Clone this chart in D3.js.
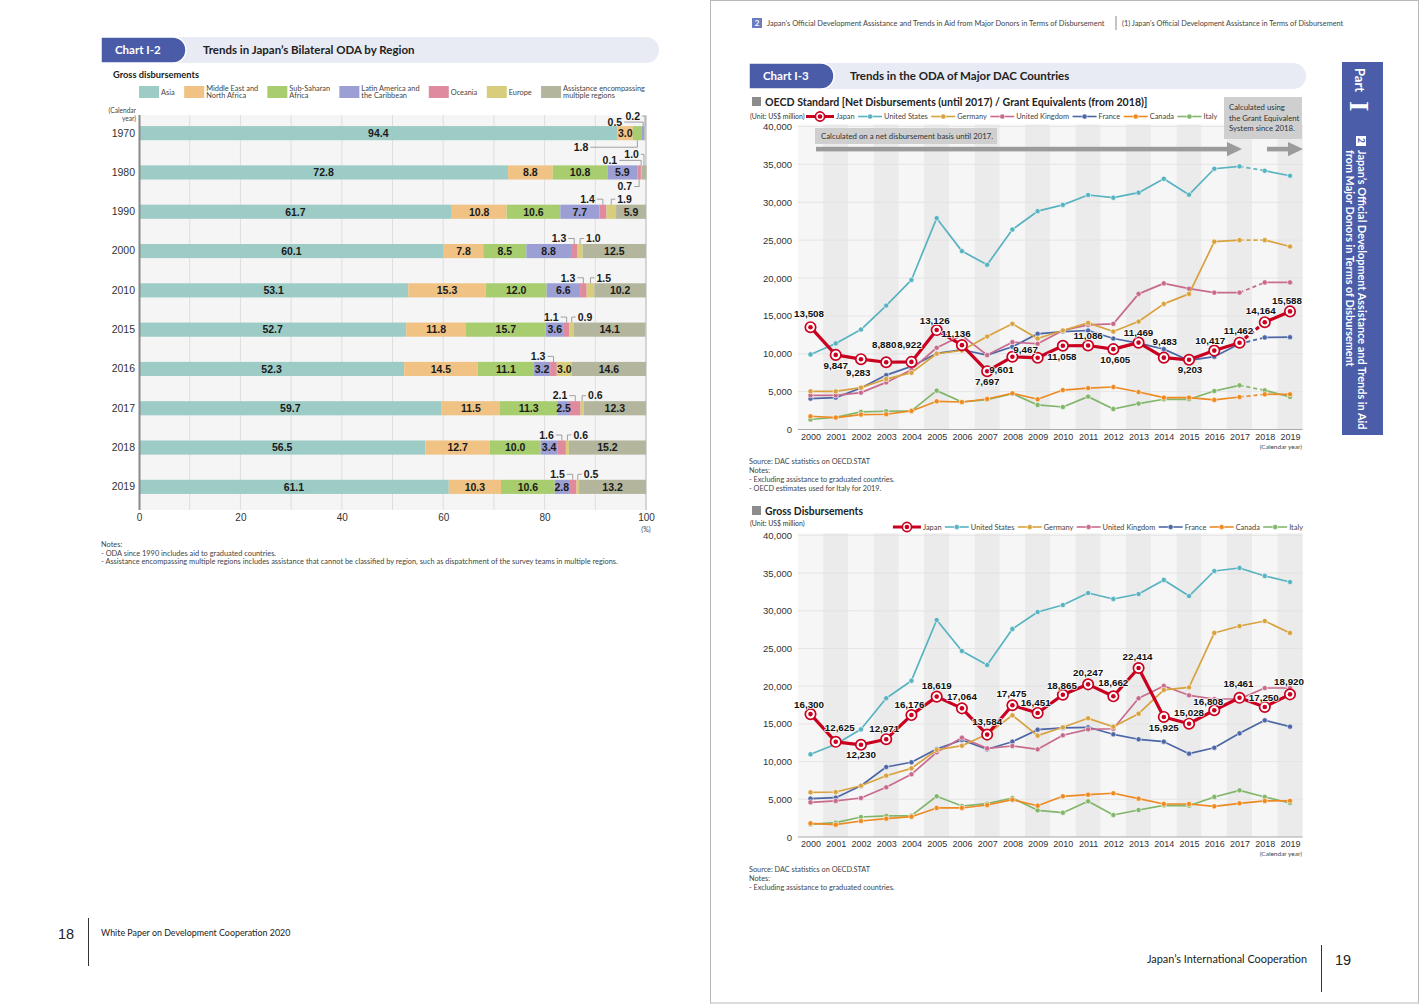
<!DOCTYPE html>
<html><head><meta charset="utf-8"><title>ODA charts</title>
<script src="https://cdn.jsdelivr.net/npm/d3@7/dist/d3.min.js"></script>
<style>html,body{margin:0;padding:0;background:#fff;}svg{display:block;}</style>
</head><body>
<svg id="page" width="1420" height="1004"></svg>
<script>
// ================= DATA =================
// Chart I-2 : Japan's bilateral ODA by region (% of gross disbursements)
const regionKeys   = ['asia','mena','ssa','latam','oceania','europe','multi'];
const regionLabels = [['Asia'],['Middle East and','North Africa'],['Sub-Saharan','Africa'],['Latin America and','the Caribbean'],['Oceania'],['Europe'],['Assistance encompassing','multiple regions']];
const regionYears  = ['1970','1980','1990','2000','2010','2015','2016','2017','2018','2019'];
const asiaShare    = [94.4,72.8,61.7,60.1,53.1,52.7,52.3,59.7,56.5,61.1];
const menaShare    = [3.0, 8.8,10.8, 7.8,15.3,11.8,14.5,11.5,12.7,10.3];
const ssaShare     = [1.8,10.8,10.6, 8.5,12.0,15.7,11.1,11.3,10.0,10.6];
const latamShare   = [0.5, 5.9, 7.7, 8.8, 6.6, 3.6, 3.2, 2.5, 3.4, 2.8];
const oceaniaShare = [0.0, 0.7, 1.4, 1.3, 1.3, 1.1, 1.3, 2.1, 1.6, 1.5];
const europeShare  = [0.0, 0.1, 1.9, 1.0, 1.5, 0.9, 3.0, 0.6, 0.6, 0.5];
const multiShare   = [0.2, 1.0, 5.9,12.5,10.2,14.1,14.6,12.3,15.2,13.2];
const shareTicks   = [0,20,40,60,80,100];

// Chart I-3 : ODA of major DAC countries (US$ million)
const years = ['2000','2001','2002','2003','2004','2005','2006','2007','2008','2009','2010','2011','2012','2013','2014','2015','2016','2017','2018','2019'];
const countryNames = ['Japan','United States','Germany','United Kingdom','France','Canada','Italy'];
const valueTicks = [0,5000,10000,15000,20000,25000,30000,35000,40000];
// OECD standard (net until 2017 / grant equivalent from 2018)
const jpNet = [13508,9847,9283,8880,8922,13126,11136,7697,9601,9467,11058,11086,10605,11469,9483,9203,10417,11462,14164,15588];
const usNet = [9910,11360,13200,16360,19740,27900,23550,21750,26400,28820,29650,30960,30600,31260,33100,31000,34420,34740,34160,33500];
const deNet = [5040,5040,5530,6660,7500,10000,10430,12280,13950,12010,13070,14080,12930,14250,16580,17900,24790,25000,25000,24160];
const ukNet = [4510,4510,4870,6220,7900,10790,12410,9820,11530,11320,13070,13820,13950,17900,19290,18590,18070,18070,19420,19420];
const frNet = [4080,4210,5470,7180,8330,10040,10530,9820,10920,12630,12930,13070,12010,11400,10610,9120,9610,11320,12150,12190];
const caNet = [1750,1580,1970,2010,2450,3720,3630,4030,4780,3990,5210,5470,5610,4950,4210,4210,3900,4290,4650,4650];
const itNet = [1320,1620,2320,2410,2450,5130,3630,3950,4740,3240,2970,4340,2710,3420,3990,3990,5080,5830,5170,4290];
// Gross disbursements
const jpGross = [16300,12625,12230,12971,16176,18619,17064,13584,17475,16451,18865,20247,18662,22414,15925,15028,16808,18461,17250,18920];
const usGross = [10970,12300,14280,18400,20730,28780,24670,22810,27590,29840,30770,32360,31570,32230,34090,31960,35280,35680,34620,33820];
const deGross = [5930,5970,6800,8130,9110,11540,12110,13620,16140,13440,14550,15740,14630,16350,19500,19850,27060,27980,28650,27060];
const ukGross = [4600,4780,5170,6590,8320,11230,13170,11760,12070,11630,13490,14280,14360,18400,20030,18790,18300,18300,19760,19760];
const frGross = [5080,5210,6800,9280,9910,11670,12870,11630,12640,14230,14460,14550,13620,12960,12640,11050,11840,13750,15480,14630];
const caGross = [1820,1630,2120,2430,2690,3850,3850,4240,4950,4150,5400,5610,5800,5080,4380,4380,4070,4470,4780,4810];
const itGross = [1680,1900,2650,2790,2830,5400,4110,4420,5170,3540,3220,4740,2920,3580,4200,4150,5310,6190,5310,4510];

// ================= STYLE / PLACEMENT =================
const TXT = "Lato,'Noto Sans','DejaVu Sans',sans-serif";
const NUM = "'Liberation Sans',Arial,Helvetica,sans-serif";
const regionColors = {asia:'#9dccc7',mena:'#f0c384',ssa:'#a8cd6f',latam:'#9b9fd4',oceania:'#e08a9e',europe:'#d7cd7c',multi:'#b3b59d'};
const countryColors = ['#c9001f','#57b3c0','#d8a23e','#c86a8c','#4c66a6','#ee8a22','#82b66b'];
// Japan label offsets [dx, dy] relative to the point
const netLabelOffset = [[-1.5,-13.4],[0,10],[-2.7,13],[-2,-17.7],[-2,-17.7],[-2,-10],[-6,-11.7],[0,10],[-11,12.6],[-12,-8.4],[-1,11],[0,-10],[2,10],[0,-10.6],[1,-16],[1,10],[-4,-10],[-1,-12.3],[-4,-11.7],[-3,-11]];
const grossLabelOffset = [[-1.5,-10],[4,-14.7],[0,10],[-2,-10.4],[-2,-11],[0,-11.7],[0,-12.3],[0,-13],[-1,-12.3],[-2,-11],[-1,-9.5],[0,-12.3],[0,-14],[-1,-11.6],[0,10.7],[0,-11.7],[-6,-9],[-1,-14.6],[-1,-9.5],[-1,-13.3]];

const svg = d3.select('#page');

function txt(parent,x,y,s,o={}){
  const t=parent.append('text').attr('x',x).attr('y',y).text(s)
    .attr('font-family',o.f||TXT).attr('font-size',o.size||8).attr('fill',o.fill||'#333');
  if(o.w) t.attr('font-weight',o.w);
  if(o.anchor) t.attr('text-anchor',o.anchor);
  return t;
}

// right page frame
svg.append('rect').attr('x',710.5).attr('y',0.5).attr('width',708).attr('height',1002.5)
  .attr('fill','none').attr('stroke','#b8b8b8').attr('stroke-width',1);

// headers
function header(x,y,w,h,tabW,tabText,title,titleX){
  const g=svg.append('g'); const r=h/2;
  g.append('path').attr('d',`M${x},${y}H${x+w-r}A${r},${r} 0 0 1 ${x+w-r},${y+h}H${x}Z`).attr('fill','#e8eaf4');
  g.append('path').attr('d',`M${x},${y}H${x+tabW-r}A${r},${r} 0 0 1 ${x+tabW-r},${y+h}H${x}Z`)
    .attr('fill','#4a5ba7').attr('stroke','#fff').attr('stroke-width',1.5);
  txt(g,x+14,y+h/2+4,tabText,{size:11.5,w:700,fill:'#fff'});
  txt(g,titleX,y+h/2+4,title,{size:11.5,w:700,fill:'#222'});
}
header(101,37,558,26,85,'Chart I-2','Trends in Japan’s Bilateral ODA by Region',203);
header(749,63,557,26,85,'Chart I-3','Trends in the ODA of Major DAC Countries',850);

// ================= CHART I-2 =================
(function(){
  const L=svg.append('g');
  txt(L,113,78,'Gross disbursements',{size:9.3,w:700,fill:'#222'});
  // legend
  let lx=139;
  regionKeys.forEach((k,i)=>{
    L.append('rect').attr('x',lx).attr('y',86).attr('width',20).attr('height',12).attr('fill',regionColors[k]);
    const lines=regionLabels[i];
    const t=L.append('text').attr('font-family',TXT).attr('font-size',7.4).attr('fill','#444');
    lines.forEach((ln,j)=>t.append('tspan').attr('x',lx+22).attr('y',lines.length===1?95:90.5+j*7.6).text(ln));
    lx += 22 + t.node().getBBox().width + 9.2;
  });

  const rows=regionYears.map((y,i)=>({year:y,asia:asiaShare[i],mena:menaShare[i],ssa:ssaShare[i],latam:latamShare[i],oceania:oceaniaShare[i],europe:europeShare[i],multi:multiShare[i]}));
  const stack=d3.stack().keys(regionKeys)(rows);
  const xs=d3.scaleLinear().domain([0,100]).range([139,646]);
  const ys=d3.scaleBand().domain(regionYears).range([113.5,506.5]).paddingInner(0.64).paddingOuter(0.32);

  L.append('rect').attr('x',139).attr('y',115).attr('width',507).attr('height',395).attr('fill','#f5f5f5');
  L.selectAll('line.grid').data(d3.range(10,100,10)).join('line')
    .attr('x1',d=>xs(d)).attr('x2',d=>xs(d)).attr('y1',115).attr('y2',510).attr('stroke','#dedede').attr('stroke-width',1);
  L.append('line').attr('x1',xs(100)).attr('x2',xs(100)).attr('y1',115).attr('y2',510).attr('stroke','#b0b0b0');

  txt(L,136,113,'(Calendar',{size:6.6,anchor:'end',fill:'#444'});
  txt(L,136,121,'year)',{size:6.6,anchor:'end',fill:'#444'});

  const xa=L.append('g').attr('transform','translate(0,511)').call(d3.axisBottom(xs).tickValues(shareTicks).tickSize(0).tickPadding(3));
  xa.select('.domain').remove();
  xa.selectAll('text').attr('font-family',NUM).attr('font-size',10).attr('fill','#333');
  txt(L,xs(100),532,'(%)',{size:7,anchor:'middle',fill:'#444'});

  const ya=L.append('g').attr('transform','translate(135,0)').call(d3.axisLeft(ys).tickSize(0).tickPadding(0));
  ya.select('.domain').remove();
  ya.selectAll('text').attr('font-family',NUM).attr('font-size',10.5).attr('fill','#333');

  // bars
  stack.forEach(layer=>{
    L.append('g').selectAll('rect').data(layer).join('rect')
      .attr('x',d=>xs(d[0])).attr('width',d=>Math.max(0,xs(d[1])-xs(d[0])))
      .attr('y',d=>ys(d.data.year)).attr('height',ys.bandwidth())
      .attr('fill',regionColors[layer.key]);
  });
  L.append('line').attr('x1',139.5).attr('x2',139.5).attr('y1',115).attr('y2',510).attr('stroke','#8a8a8a').attr('stroke-width',2);

  // callouts for small segments
  const callouts=[
    {year:'1970',key:'ssa',side:'below',dx:-49,lvl:7},
    {year:'1970',key:'latam',side:'above',dx:-21,lvl:4},
    {year:'1970',key:'multi',side:'above',dx:-5,lvl:10},
    {year:'1980',key:'europe',side:'above',dx:-24,lvl:5},
    {year:'1980',key:'multi',side:'above',dx:-5,lvl:11},
    {year:'1980',key:'oceania',side:'below',dx:-7,lvl:7}
  ];
  regionYears.slice(2).forEach((yr,j)=>{
    const i=j+2;
    callouts.push({year:yr,key:'oceania',side:'above',dx:-8,lvl:5.5});
    if(europeShare[i]<2.5) callouts.push({year:yr,key:'europe',side:'above',dx:6,lvl:5.5});
  });
  const isCallout=(yr,k)=>callouts.some(c=>c.year===yr&&c.key===k);
  const fmt=d3.format('.1f');
  stack.forEach(layer=>{
    layer.forEach(d=>{
      const v=d[1]-d[0];
      if(v>=2.5 && !isCallout(d.data.year,layer.key)){
        txt(L,xs((d[0]+d[1])/2),ys(d.data.year)+ys.bandwidth()/2+3.8,fmt(v),{f:NUM,size:10.5,w:700,anchor:'middle',fill:'#1a1a1a'});
      }
    });
  });
  callouts.forEach(c=>{
    const layer=stack.find(s=>s.key===c.key);
    const d=layer.find(e=>e.data.year===c.year);
    const cx=xs((d[0]+d[1])/2);
    const top=ys(c.year), bot=top+ys.bandwidth();
    const edge=c.side==='above'?top:bot;
    const ly=c.side==='above'?edge-c.lvl:edge+c.lvl;
    const tx=cx+c.dx;
    L.append('path').attr('d',`M${cx},${edge}V${ly}H${c.dx<0?tx+2:tx-2}`)
      .attr('fill','none').attr('stroke','#8c8c8c').attr('stroke-width',0.8);
    txt(L,tx,ly+3.8,fmt(d[1]-d[0]),{f:NUM,size:10.5,w:700,anchor:c.dx<0?'end':'start',fill:'#1a1a1a'});
  });

  txt(L,101,547,'Notes:',{size:7.4,fill:'#444'});
  txt(L,101,555.5,'- ODA since 1990 includes aid to graduated countries.',{size:7.4,fill:'#444'});
  txt(L,101,564,'- Assistance encompassing multiple regions includes assistance that cannot be classified by region, such as dispatchment of the survey teams in multiple regions.',{size:7.4,fill:'#444'});
})();

// ================= RIGHT PAGE TOP =================
(function(){
  const g=svg.append('g');
  g.append('rect').attr('x',752).attr('y',18).attr('width',10).attr('height',10).attr('fill','#6b7cc2');
  txt(g,757,26,'2',{size:8,w:700,fill:'#fff',anchor:'middle'});
  txt(g,767,26,'Japan’s Official Development Assistance and Trends in Aid from Major Donors in Terms of Disbursement',{size:7.45,fill:'#444'});
  g.append('line').attr('x1',1116).attr('x2',1116).attr('y1',16).attr('y2',30).attr('stroke','#888');
  txt(g,1122,26,'(1) Japan’s Official Development Assistance in Terms of Disbursement',{size:7.3,fill:'#444'});

  // vertical tab
  g.append('rect').attr('x',1342).attr('y',62).attr('width',41).attr('height',373).attr('fill','#4b5da8');
  const v=(x,y,s,o)=>txt(g,0,0,s,Object.assign({fill:'#fff'},o)).attr('transform',`translate(${x},${y}) rotate(90)`);
  v(1355,68,'Part',{size:13,w:700});
  v(1350,101,'I',{size:27,w:700,f:"'Liberation Serif','DejaVu Serif',serif"});
  g.append('rect').attr('x',1356).attr('y',136).attr('width',10).attr('height',10).attr('fill','#fff');
  v(1358,138,'2',{size:8.5,w:700,fill:'#4b5da8'});
  v(1358,150,'Japan’s Official Development Assistance and Trends in Aid',{size:10.9,w:700});
  v(1345.5,150,'from Major Donors in Terms of Disbursement',{size:10.8,w:700});
})();

// ================= CHART I-3 (line charts) =================
const netSeries=[jpNet,usNet,deNet,ukNet,frNet,caNet,itNet];
const grossSeries=[jpGross,usGross,deGross,ukGross,frGross,caGross,itGross];

function marker(g,x,y,i,big){
  const c=countryColors[i];
  if(i===0){
    const r=big?5.2:4.6;
    g.append('circle').attr('cx',x).attr('cy',y).attr('r',r).attr('fill','#fff').attr('stroke',c).attr('stroke-width',1.7);
    g.append('circle').attr('cx',x).attr('cy',y).attr('r',2.3).attr('fill',c);
  } else {
    g.append('circle').attr('cx',x).attr('cy',y).attr('r',2.6).attr('fill',c).attr('stroke','#fff').attr('stroke-width',0.6);
  }
}

function legend(x0,y0,gap,alignRight){
  const items=svg.append('g');
  let cx=0;
  countryNames.forEach((n,i)=>{
    const len=i===0?28:24;
    items.append('line').attr('x1',cx).attr('x2',cx+len).attr('y1',0).attr('y2',0)
      .attr('stroke',countryColors[i]).attr('stroke-width',i===0?3:1.6);
    marker(items,cx+len/2,0,i,false);
    const t=txt(items,cx+len+2,2.6,n,{size:7.4,fill:'#444'});
    cx+=len+2+t.node().getComputedTextLength()+gap;
  });
  const total=cx-gap;
  items.attr('transform',`translate(${alignRight?x0-total:x0},${y0})`);
}

function lineChart(o){
  const g=svg.append('g');
  const x=d3.scalePoint().domain(years).range([810.5,1290]);
  const step=x.step();
  const y=d3.scaleLinear().domain([0,40000]).range([o.yZero,o.yTop]);
  const top=o.yTop-2;
  g.selectAll('rect.band').data(years).join('rect')
    .attr('x',d=>x(d)-step/2).attr('width',step).attr('y',top).attr('height',o.yZero-top)
    .attr('fill',(d,i)=>i%2?'#ebebeb':'#f6f6f6');
  g.selectAll('line.grid').data(valueTicks.slice(1)).join('line')
    .attr('x1',x(years[0])-step/2).attr('x2',x(years[years.length-1])+step/2)
    .attr('y1',d=>y(d)).attr('y2',d=>y(d)).attr('stroke','#e1e1e1').attr('stroke-width',0.8);
  g.append('line').attr('x1',x(years[0])-step/2).attr('x2',x(years[years.length-1])+step/2)
    .attr('y1',y(0)).attr('y2',y(0)).attr('stroke','#a8a8a8').attr('stroke-width',1);

  const ya=g.append('g').attr('transform','translate(792,0)').call(d3.axisLeft(y).tickValues(valueTicks).tickFormat(d3.format(',')).tickSize(0).tickPadding(0));
  ya.select('.domain').remove();
  ya.selectAll('text').attr('font-family',NUM).attr('font-size',9.5).attr('fill','#333');
  const xa=g.append('g').attr('transform',`translate(0,${o.yZero})`).call(d3.axisBottom(x).tickSize(0).tickPadding(4));
  xa.select('.domain').remove();
  xa.selectAll('text').attr('font-family',NUM).attr('font-size',9).attr('fill','#333');
  txt(g,1302,o.yZero+19,'(Calendar year)',{size:6.5,anchor:'end',fill:'#444'});

  const line=d3.line().x(d=>x(d.year)).y(d=>y(d.v));
  const order=[6,5,4,3,2,1,0];
  order.forEach(i=>{
    const pts=years.map((yr,k)=>({year:yr,v:o.series[i][k]}));
    const w=i===0?3.2:1.7;
    const segs=o.dashed?[[pts.slice(0,18),null],[pts.slice(17,19),'4,3'],[pts.slice(18),null]]:[[pts,null]];
    segs.forEach(([p,dash])=>{
      const path=g.append('path').attr('d',line(p)).attr('fill','none').attr('stroke',countryColors[i])
        .attr('stroke-width',w).attr('stroke-linejoin','round');
      if(dash) path.attr('stroke-dasharray',dash);
    });
    pts.forEach(p=>marker(g,x(p.year),y(p.v),i,true));
  });
  // Japan labels
  const f=d3.format(',');
  years.forEach((yr,k)=>{
    const v=o.series[0][k]; const off=o.offsets[k];
    txt(g,x(yr)+off[0],y(v)+off[1]+3.6,f(v),{f:NUM,size:9.8,w:700,anchor:'middle',fill:'#111'})
      .attr('stroke','#fff').attr('stroke-width',2).attr('stroke-opacity',0.75).attr('paint-order','stroke').attr('stroke-linejoin','round');
  });
  return {g,x,y};
}

// chart 1 heading
(function(){
  const g=svg.append('g');
  g.append('rect').attr('x',752).attr('y',97).attr('width',9).attr('height',9).attr('fill','#8c8c8c');
  txt(g,765,105.5,'OECD Standard [Net Disbursements (until 2017) / Grant Equivalents (from 2018)]',{size:10.6,w:700,fill:'#222'});
  txt(g,750,119,'(Unit: US$ million)',{size:6.9,fill:'#333'});
})();
legend(806,116.5,3.5,false);
const c1=lineChart({yTop:126.5,yZero:429.5,series:netSeries,offsets:netLabelOffset,dashed:true});
// annotations chart 1
(function(){
  const g=svg.append('g');
  g.append('rect').attr('x',815).attr('y',128).attr('width',182).attr('height',16).attr('fill','#cfcfcf');
  txt(g,821,139,'Calculated on a net disbursement basis until 2017.',{size:7.8,fill:'#333'});
  g.append('rect').attr('x',816).attr('y',146.8).attr('width',412).attr('height',4.6).attr('fill','#9b9b9b');
  g.append('path').attr('d','M1227,142L1242,149.1L1227,156.2Z').attr('fill','#9b9b9b');
  g.append('rect').attr('x',1224).attr('y',97).attr('width',78).attr('height',42).attr('fill','#cfcfcf');
  txt(g,1229,110,'Calculated using',{size:7.8,fill:'#333'});
  txt(g,1229,120.5,'the Grant Equivalent',{size:7.8,fill:'#333'});
  txt(g,1229,131,'System since 2018.',{size:7.8,fill:'#333'});
  g.append('rect').attr('x',1267).attr('y',146.8).attr('width',22).attr('height',4.6).attr('fill','#9b9b9b');
  g.append('path').attr('d','M1288,142L1303,149.1L1288,156.2Z').attr('fill','#9b9b9b');
  txt(g,749,464,'Source: DAC statistics on OECD.STAT',{size:7.3,fill:'#444'});
  txt(g,749,473,'Notes:',{size:7.3,fill:'#444'});
  txt(g,749,482,'- Excluding assistance to graduated countries.',{size:7.3,fill:'#444'});
  txt(g,749,491,'- OECD estimates used for Italy for 2019.',{size:7.3,fill:'#444'});
})();

// chart 2
(function(){
  const g=svg.append('g');
  g.append('rect').attr('x',752).attr('y',506).attr('width',9).attr('height',9).attr('fill','#8c8c8c');
  txt(g,765,514.5,'Gross Disbursements',{size:10.4,w:700,fill:'#222'});
  txt(g,750,526,'(Unit: US$ million)',{size:6.9,fill:'#333'});
})();
legend(1303,527,3.3,true);
const c2=lineChart({yTop:535.4,yZero:837,series:grossSeries,offsets:grossLabelOffset,dashed:false});
(function(){
  const g=svg.append('g');
  txt(g,749,872,'Source: DAC statistics on OECD.STAT',{size:7.3,fill:'#444'});
  txt(g,749,881,'Notes:',{size:7.3,fill:'#444'});
  txt(g,749,890,'- Excluding assistance to graduated countries.',{size:7.3,fill:'#444'});
})();

// ================= FOOTERS =================
(function(){
  const g=svg.append('g');
  txt(g,58,939,'18',{f:NUM,size:14.5,fill:'#222'});
  g.append('line').attr('x1',88.5).attr('x2',88.5).attr('y1',918).attr('y2',966).attr('stroke','#333');
  txt(g,101,936,'White Paper on Development Cooperation 2020',{size:8.9,fill:'#222'});
  txt(g,1307,963,'Japan’s International Cooperation',{size:10.9,fill:'#222',anchor:'end'});
  g.append('line').attr('x1',1321.5).attr('x2',1321.5).attr('y1',945).attr('y2',992).attr('stroke','#333');
  txt(g,1335,965,'19',{f:NUM,size:14.5,fill:'#222'});
})();
</script>
</body></html>
